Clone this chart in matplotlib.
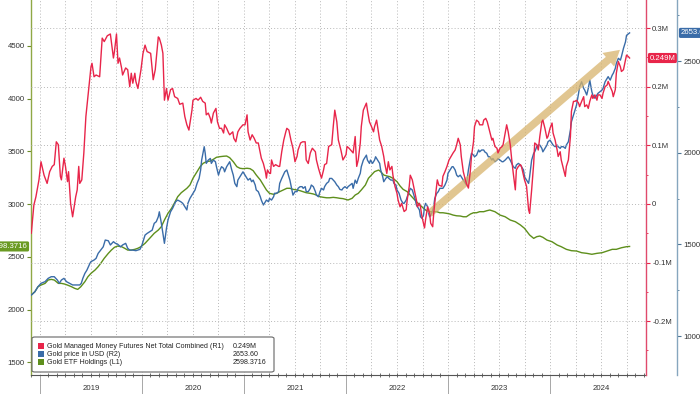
import numpy as np
import matplotlib
matplotlib.use("Agg")
import matplotlib.pyplot as plt
from matplotlib.ticker import FixedLocator, FuncFormatter, MultipleLocator
from matplotlib.patches import FancyBboxPatch, Rectangle

plt.rcParams['font.family'] = ['Liberation Sans', 'DejaVu Sans']

# ---------------- data (dates as decimal years) ----------------
series_names = ["Gold Managed Money Futures Net Total Combined (R1)",
                "Gold price in USD (R2)",
                "Gold ETF Holdings (L1)"]

red_t = [2018.915, 2018.94, 2018.96, 2018.99, 2019.01, 2019.04, 2019.07, 2019.095, 2019.12, 2019.14,
         2019.16, 2019.18, 2019.20, 2019.21, 2019.235, 2019.25, 2019.27, 2019.28, 2019.30, 2019.32,
         2019.35, 2019.365, 2019.38, 2019.39, 2019.41, 2019.43, 2019.45, 2019.48, 2019.50, 2019.51,
         2019.53, 2019.55, 2019.585, 2019.61, 2019.63, 2019.66, 2019.69, 2019.72, 2019.73, 2019.75,
         2019.765, 2019.78, 2019.80, 2019.81, 2019.84, 2019.86, 2019.88, 2019.895, 2019.91, 2019.93,
         2019.94, 2019.96, 2019.99, 2020.01, 2020.03, 2020.05, 2020.085, 2020.11, 2020.13, 2020.16,
         2020.17, 2020.19, 2020.205, 2020.22, 2020.24, 2020.255, 2020.28, 2020.30, 2020.32, 2020.35,
         2020.37, 2020.40, 2020.42, 2020.44, 2020.46, 2020.49, 2020.50, 2020.53, 2020.55, 2020.575,
         2020.595, 2020.62, 2020.63, 2020.65, 2020.67, 2020.68, 2020.70, 2020.725, 2020.74, 2020.76,
         2020.78, 2020.80, 2020.81, 2020.83, 2020.85, 2020.86, 2020.89, 2020.90, 2020.92, 2020.94,
         2020.96, 2020.99, 2021.01, 2021.03, 2021.04, 2021.06, 2021.08, 2021.10, 2021.12, 2021.14,
         2021.16, 2021.17, 2021.19, 2021.21, 2021.22, 2021.23, 2021.25, 2021.26, 2021.27, 2021.29,
         2021.31, 2021.34, 2021.35, 2021.37, 2021.39, 2021.41, 2021.42, 2021.44, 2021.46, 2021.48,
         2021.50, 2021.52, 2021.53, 2021.555, 2021.575, 2021.60, 2021.61, 2021.63, 2021.65, 2021.67,
         2021.70, 2021.71, 2021.73, 2021.745, 2021.76, 2021.78, 2021.79, 2021.81, 2021.83, 2021.86,
         2021.875, 2021.89, 2021.91, 2021.925, 2021.95, 2021.97, 2022.00, 2022.01, 2022.03, 2022.06,
         2022.07, 2022.09, 2022.105, 2022.12, 2022.14, 2022.15, 2022.17, 2022.20, 2022.21, 2022.23,
         2022.25, 2022.27, 2022.28, 2022.30, 2022.32, 2022.33, 2022.35, 2022.37, 2022.38, 2022.40,
         2022.415, 2022.43, 2022.45, 2022.46, 2022.48, 2022.50, 2022.51, 2022.53, 2022.545, 2022.57,
         2022.59, 2022.60, 2022.62, 2022.63, 2022.65, 2022.67, 2022.69, 2022.70, 2022.72, 2022.73,
         2022.745, 2022.76, 2022.77, 2022.78, 2022.80, 2022.82, 2022.83, 2022.85, 2022.86, 2022.88,
         2022.895, 2022.91, 2022.94, 2022.95, 2022.97, 2022.99, 2023.01, 2023.03, 2023.05, 2023.07,
         2023.085, 2023.10, 2023.12, 2023.13, 2023.15, 2023.17, 2023.18, 2023.20, 2023.22, 2023.23,
         2023.25, 2023.26, 2023.28, 2023.30, 2023.31, 2023.34, 2023.35, 2023.37, 2023.385, 2023.405,
         2023.43, 2023.44, 2023.46, 2023.48, 2023.49, 2023.51, 2023.53, 2023.54, 2023.56, 2023.575,
         2023.59, 2023.61, 2023.625, 2023.64, 2023.66, 2023.67, 2023.69, 2023.71, 2023.72, 2023.74,
         2023.75, 2023.77, 2023.79, 2023.80, 2023.82, 2023.84, 2023.85, 2023.87, 2023.885, 2023.90,
         2023.92, 2023.93, 2023.95, 2023.97, 2023.98, 2024.00, 2024.02, 2024.03, 2024.05, 2024.07,
         2024.08, 2024.10, 2024.11, 2024.13, 2024.15, 2024.16, 2024.18, 2024.20, 2024.21, 2024.23,
         2024.245, 2024.26, 2024.28, 2024.29, 2024.31, 2024.33, 2024.34, 2024.36, 2024.375, 2024.39,
         2024.41, 2024.42, 2024.44, 2024.46, 2024.47, 2024.49, 2024.51, 2024.52, 2024.54, 2024.56,
         2024.57, 2024.59, 2024.61, 2024.62, 2024.64, 2024.65, 2024.67, 2024.69, 2024.70, 2024.72,
         2024.74, 2024.75, 2024.77, 2024.78]
red_v = [-0.050, -0.002, 0.012, 0.041, 0.072, 0.049, 0.035, 0.055, 0.064, 0.067,
         0.106, 0.101, 0.047, 0.041, 0.078, 0.064, 0.038, 0.055, 0.001, -0.022,
         0.012, 0.024, 0.064, 0.035, 0.041, 0.087, 0.149, 0.200, 0.234, 0.240,
         0.217, 0.220, 0.217, 0.283, 0.277, 0.287, 0.290, 0.249, 0.260, 0.290,
         0.240, 0.249, 0.232, 0.220, 0.232, 0.229, 0.200, 0.223, 0.206, 0.223,
         0.209, 0.197, 0.229, 0.257, 0.271, 0.260, 0.257, 0.212, 0.229, 0.285,
         0.283, 0.271, 0.257, 0.177, 0.197, 0.177, 0.195, 0.197, 0.183, 0.180,
         0.170, 0.172, 0.149, 0.135, 0.126, 0.160, 0.177, 0.180, 0.177, 0.182,
         0.175, 0.172, 0.152, 0.155, 0.146, 0.138, 0.155, 0.163, 0.140, 0.129,
         0.129, 0.121, 0.135, 0.129, 0.121, 0.118, 0.123, 0.112, 0.106, 0.123,
         0.129, 0.135, 0.135, 0.152, 0.123, 0.109, 0.118, 0.112, 0.104, 0.104,
         0.087, 0.078, 0.069, 0.055, 0.044, 0.058, 0.052, 0.052, 0.075, 0.064,
         0.067, 0.064, 0.064, 0.089, 0.109, 0.123, 0.129, 0.126, 0.109, 0.095,
         0.072, 0.081, 0.092, 0.104, 0.106, 0.106, 0.075, 0.069, 0.087, 0.095,
         0.089, 0.075, 0.061, 0.052, 0.044, 0.058, 0.067, 0.069, 0.098, 0.101,
         0.132, 0.160, 0.140, 0.109, 0.092, 0.075, 0.084, 0.098, 0.095, 0.089,
         0.087, 0.115, 0.064, 0.075, 0.104, 0.132, 0.160, 0.172, 0.160, 0.140,
         0.132, 0.123, 0.132, 0.143, 0.121, 0.109, 0.098, 0.081, 0.069, 0.052,
         0.072, 0.058, 0.064, 0.049, 0.030, 0.018, 0.007, -0.005, 0.001, -0.013,
         -0.010, 0.007, 0.030, 0.049, 0.041, 0.024, 0.007, -0.005, 0.001, -0.005,
         -0.022, -0.033, -0.041, -0.027, -0.005, -0.016, -0.033, -0.039, -0.016, 0.018,
         0.041, 0.032, 0.030, 0.047, 0.055, 0.064, 0.075, 0.081, 0.087, 0.092,
         0.101, 0.112, 0.101, 0.081, 0.055, 0.041, 0.035, 0.027, 0.058, 0.081,
         0.106, 0.132, 0.143, 0.140, 0.135, 0.135, 0.143, 0.146, 0.140, 0.126,
         0.109, 0.112, 0.098, 0.095, 0.087, 0.095, 0.098, 0.101, 0.121, 0.135,
         0.123, 0.101, 0.075, 0.052, 0.024, 0.058, 0.064, 0.067, 0.064, 0.049,
         0.041, 0.030, -0.010, -0.016, 0.024, 0.069, 0.104, 0.101, 0.092, 0.115,
         0.140, 0.143, 0.129, 0.112, 0.115, 0.129, 0.138, 0.121, 0.109, 0.092,
         0.081, 0.089, 0.075, 0.061, 0.047, 0.064, 0.075, 0.115, 0.158, 0.175,
         0.175, 0.177, 0.172, 0.166, 0.175, 0.183, 0.166, 0.169, 0.163, 0.175,
         0.186, 0.180, 0.186, 0.177, 0.186, 0.186, 0.180, 0.189, 0.200, 0.203,
         0.209, 0.200, 0.192, 0.183, 0.195, 0.223, 0.243, 0.234, 0.226, 0.229,
         0.246, 0.254, 0.251, 0.249]

blue_t = [2018.915, 2018.95, 2018.98, 2019.01, 2019.05, 2019.08, 2019.11, 2019.14, 2019.17, 2019.19,
          2019.21, 2019.235, 2019.26, 2019.29, 2019.32, 2019.36, 2019.39, 2019.405, 2019.42, 2019.44,
          2019.46, 2019.49, 2019.50, 2019.53, 2019.55, 2019.57, 2019.595, 2019.62, 2019.64, 2019.67,
          2019.69, 2019.72, 2019.74, 2019.76, 2019.79, 2019.81, 2019.84, 2019.86, 2019.88, 2019.91,
          2019.94, 2019.98, 2020.00, 2020.03, 2020.05, 2020.075, 2020.10, 2020.12, 2020.14, 2020.16,
          2020.17, 2020.19, 2020.205, 2020.22, 2020.24, 2020.255, 2020.28, 2020.30, 2020.33, 2020.35,
          2020.38, 2020.40, 2020.42, 2020.44, 2020.45, 2020.47, 2020.50, 2020.52, 2020.54, 2020.56,
          2020.575, 2020.585, 2020.60, 2020.61, 2020.62, 2020.63, 2020.65, 2020.67, 2020.68, 2020.70,
          2020.72, 2020.73, 2020.75, 2020.765, 2020.78, 2020.80, 2020.81, 2020.83, 2020.85, 2020.86,
          2020.88, 2020.895, 2020.91, 2020.93, 2020.94, 2020.96, 2020.98, 2020.99, 2021.01, 2021.03,
          2021.04, 2021.06, 2021.075, 2021.09, 2021.11, 2021.12, 2021.14, 2021.16, 2021.17, 2021.19,
          2021.21, 2021.22, 2021.24, 2021.25, 2021.27, 2021.29, 2021.30, 2021.32, 2021.34, 2021.35,
          2021.37, 2021.385, 2021.40, 2021.42, 2021.43, 2021.45, 2021.47, 2021.48, 2021.50, 2021.52,
          2021.53, 2021.55, 2021.57, 2021.58, 2021.60, 2021.61, 2021.63, 2021.65, 2021.66, 2021.68,
          2021.70, 2021.71, 2021.73, 2021.745, 2021.76, 2021.78, 2021.79, 2021.81, 2021.83, 2021.84,
          2021.86, 2021.875, 2021.89, 2021.91, 2021.925, 2021.94, 2021.96, 2021.97, 2021.99, 2022.01,
          2022.02, 2022.04, 2022.06, 2022.07, 2022.09, 2022.105, 2022.12, 2022.14, 2022.15, 2022.17,
          2022.19, 2022.20, 2022.21, 2022.23, 2022.24, 2022.26, 2022.28, 2022.29, 2022.31, 2022.33,
          2022.34, 2022.36, 2022.37, 2022.39, 2022.405, 2022.42, 2022.44, 2022.46, 2022.47, 2022.49,
          2022.50, 2022.52, 2022.54, 2022.56, 2022.57, 2022.59, 2022.60, 2022.62, 2022.63, 2022.65,
          2022.66, 2022.68, 2022.69, 2022.71, 2022.72, 2022.73, 2022.745, 2022.76, 2022.77, 2022.78,
          2022.80, 2022.81, 2022.82, 2022.84, 2022.86, 2022.87, 2022.89, 2022.905, 2022.92, 2022.94,
          2022.95, 2022.97, 2022.99, 2023.00, 2023.02, 2023.04, 2023.05, 2023.07, 2023.085, 2023.10,
          2023.12, 2023.13, 2023.15, 2023.17, 2023.18, 2023.20, 2023.22, 2023.23, 2023.25, 2023.26,
          2023.28, 2023.30, 2023.31, 2023.33, 2023.35, 2023.36, 2023.38, 2023.395, 2023.41, 2023.43,
          2023.44, 2023.46, 2023.48, 2023.49, 2023.51, 2023.53, 2023.54, 2023.56, 2023.575, 2023.59,
          2023.61, 2023.625, 2023.64, 2023.66, 2023.67, 2023.69, 2023.71, 2023.72, 2023.74, 2023.75,
          2023.77, 2023.79, 2023.80, 2023.82, 2023.84, 2023.85, 2023.87, 2023.885, 2023.90, 2023.92,
          2023.93, 2023.95, 2023.97, 2023.98, 2024.00, 2024.02, 2024.03, 2024.05, 2024.07, 2024.08,
          2024.10, 2024.11, 2024.13, 2024.15, 2024.16, 2024.18, 2024.20, 2024.21, 2024.23, 2024.245,
          2024.26, 2024.28, 2024.29, 2024.31, 2024.33, 2024.34, 2024.36, 2024.375, 2024.39, 2024.41,
          2024.42, 2024.44, 2024.46, 2024.47, 2024.49, 2024.51, 2024.52, 2024.54, 2024.56, 2024.57,
          2024.59, 2024.61, 2024.62, 2024.64, 2024.65, 2024.67, 2024.69, 2024.70, 2024.72, 2024.74,
          2024.75, 2024.78]
blue_v = [1224, 1242, 1269, 1288, 1297, 1315, 1324, 1324, 1306, 1288,
          1306, 1315, 1297, 1288, 1279, 1279, 1279, 1288, 1315, 1342,
          1360, 1397, 1406, 1415, 1424, 1451, 1469, 1487, 1524, 1520,
          1497, 1515, 1506, 1502, 1487, 1497, 1506, 1479, 1469, 1469,
          1466, 1473, 1497, 1551, 1560, 1569, 1578, 1615, 1624, 1651,
          1678, 1615, 1560, 1506, 1588, 1633, 1678, 1697, 1733, 1742,
          1733, 1724, 1706, 1688, 1724, 1751, 1779, 1797, 1833, 1860,
          1906, 1960, 2005, 2033, 1997, 1942, 1960, 1969, 1942, 1960,
          1951, 1924, 1878, 1906, 1924, 1915, 1896, 1924, 1942, 1951,
          1906, 1878, 1833, 1815, 1851, 1869, 1888, 1896, 1878, 1860,
          1851, 1860, 1842, 1851, 1824, 1797, 1788, 1760, 1742, 1715,
          1733, 1742, 1733, 1751, 1742, 1760, 1779, 1779, 1788, 1833,
          1860, 1878, 1896, 1906, 1888, 1851, 1797, 1769, 1788, 1788,
          1806, 1815, 1815, 1806, 1815, 1788, 1788, 1806, 1824, 1815,
          1788, 1769, 1760, 1788, 1806, 1797, 1815, 1833, 1842, 1860,
          1860, 1851, 1842, 1824, 1815, 1800, 1797, 1806, 1815, 1806,
          1815, 1824, 1833, 1806, 1851, 1833, 1860, 1888, 1924, 1960,
          1978, 1987, 1960, 1942, 1960, 1942, 1960, 1978, 1960, 1942,
          1906, 1869, 1842, 1860, 1869, 1860, 1851, 1851, 1833, 1824,
          1797, 1779, 1742, 1724, 1724, 1742, 1760, 1788, 1806, 1797,
          1779, 1742, 1715, 1697, 1688, 1651, 1642, 1660, 1706, 1724,
          1706, 1669, 1651, 1669, 1706, 1751, 1779, 1788, 1806, 1806,
          1806, 1824, 1851, 1888, 1906, 1924, 1924, 1906, 1878, 1869,
          1878, 1869, 1851, 1833, 1824, 1906, 1969, 1997, 1987, 1978,
          1987, 2015, 2005, 2015, 2015, 2005, 1997, 1978, 1978, 1960,
          1969, 1951, 1960, 1969, 1960, 1951, 1951, 1960, 1969, 1978,
          1960, 1942, 1924, 1915, 1933, 1942, 1933, 1924, 1906, 1869,
          1851, 1833, 1869, 1960, 1997, 2005, 2033, 2042, 2042, 2024,
          2005, 2024, 2042, 2060, 2069, 2051, 2042, 2033, 2042, 2033,
          2024, 2033, 2033, 2024, 2042, 2060, 2124, 2169, 2206, 2233,
          2260, 2324, 2360, 2387, 2351, 2342, 2315, 2351, 2396, 2333,
          2315, 2297, 2315, 2324, 2333, 2342, 2351, 2387, 2406, 2415,
          2396, 2424, 2433, 2460, 2487, 2515, 2505, 2524, 2569, 2605,
          2640, 2653.60]

green_t = [2018.915, 2018.95, 2018.98, 2019.01, 2019.05, 2019.08, 2019.11, 2019.14, 2019.18, 2019.21,
           2019.24, 2019.27, 2019.31, 2019.34, 2019.37, 2019.40, 2019.44, 2019.47, 2019.50, 2019.54,
           2019.57, 2019.60, 2019.63, 2019.67, 2019.70, 2019.73, 2019.76, 2019.80, 2019.83, 2019.86,
           2019.895, 2019.93, 2019.96, 2019.99, 2020.03, 2020.06, 2020.09, 2020.12, 2020.16, 2020.19,
           2020.22, 2020.255, 2020.29, 2020.32, 2020.35, 2020.385, 2020.42, 2020.44, 2020.47, 2020.50,
           2020.54, 2020.57, 2020.60, 2020.63, 2020.67, 2020.70, 2020.73, 2020.765, 2020.80, 2020.83,
           2020.86, 2020.895, 2020.93, 2020.96, 2020.99, 2021.03, 2021.06, 2021.09, 2021.12, 2021.16,
           2021.19, 2021.22, 2021.25, 2021.29, 2021.32, 2021.35, 2021.385, 2021.42, 2021.45, 2021.48,
           2021.52, 2021.55, 2021.58, 2021.61, 2021.65, 2021.68, 2021.71, 2021.745, 2021.78, 2021.81,
           2021.84, 2021.875, 2021.91, 2021.94, 2021.97, 2022.02, 2022.06, 2022.09, 2022.12, 2022.15,
           2022.19, 2022.22, 2022.25, 2022.28, 2022.32, 2022.34, 2022.37, 2022.40, 2022.43, 2022.46,
           2022.50, 2022.53, 2022.56, 2022.60, 2022.63, 2022.66, 2022.69, 2022.725, 2022.76, 2022.79,
           2022.82, 2022.86, 2022.89, 2022.92, 2022.95, 2022.99, 2023.02, 2023.05, 2023.085, 2023.12,
           2023.15, 2023.18, 2023.22, 2023.25, 2023.28, 2023.31, 2023.35, 2023.38, 2023.41, 2023.46,
           2023.51, 2023.56, 2023.61, 2023.66, 2023.71, 2023.75, 2023.80, 2023.84, 2023.87, 2023.90,
           2023.93, 2023.97, 2024.02, 2024.07, 2024.11, 2024.16, 2024.21, 2024.26, 2024.31, 2024.36,
           2024.41, 2024.46, 2024.51, 2024.56, 2024.61, 2024.65, 2024.70, 2024.75, 2024.78]
green_v = [2137, 2169, 2216, 2232, 2248, 2280, 2286, 2280, 2248, 2248,
           2242, 2232, 2216, 2201, 2191, 2216, 2264, 2311, 2343, 2375,
           2406, 2444, 2486, 2533, 2564, 2590, 2602, 2596, 2581, 2564,
           2564, 2571, 2581, 2596, 2628, 2659, 2691, 2723, 2754, 2786,
           2849, 2913, 2960, 3013, 3070, 3108, 3135, 3150, 3181, 3245,
           3308, 3355, 3387, 3402, 3409, 3425, 3444, 3450, 3454, 3456,
           3440, 3402, 3355, 3340, 3336, 3340, 3336, 3317, 3276, 3229,
           3181, 3134, 3102, 3093, 3102, 3118, 3134, 3150, 3150, 3140,
           3134, 3127, 3118, 3108, 3102, 3096, 3086, 3070, 3064, 3060,
           3060, 3064, 3060, 3055, 3052, 3039, 3055, 3086, 3102, 3134,
           3181, 3245, 3276, 3308, 3323, 3308, 3276, 3267, 3260, 3245,
           3213, 3172, 3140, 3118, 3086, 3055, 3023, 2991, 2960, 2937,
           2928, 2928, 2928, 2918, 2918, 2912, 2906, 2896, 2889, 2887,
           2880, 2880, 2906, 2918, 2918, 2928, 2928, 2937, 2944, 2928,
           2896, 2880, 2849, 2833, 2802, 2770, 2707, 2675, 2691, 2697,
           2685, 2659, 2643, 2612, 2596, 2571, 2558, 2555, 2539, 2533,
           2524, 2533, 2539, 2555, 2571, 2571, 2586, 2596, 2598.3716]

years = [2019, 2020, 2021, 2022, 2023, 2024]
l1_ticks = [1500, 2000, 2500, 3000, 3500, 4000, 4500]
r1_ticks = [-0.2, -0.1, 0.0, 0.1, 0.2, 0.3]
r2_ticks = [1000, 1500, 2000, 2500]

# ---------------- styling ----------------
RED = '#E8254A'
BLUE = '#3A6CA8'
GREEN = '#5E8F1C'
GRID = '#B8B8B8'
TXT = '#333333'
FS = 5.6
LFS = 5.1

W, H = 700, 394
fig = plt.figure(figsize=(W / 100, H / 100), dpi=100)
fig.patch.set_facecolor('white')
x0, x1, ybot = 31, 646, 375
ax = fig.add_axes([x0 / W, 1 - ybot / H, (x1 - x0) / W, ybot / H])
axB = ax.twinx()
axR = ax.twinx()

ax.set_xlim(2018.912, 2024.941)
ax.set_ylim(1379, 4936)
axR.set_ylim(-0.292, 0.348)
axB.set_ylim(788, 2833)

# spines
for s in ['top', 'right']:
    ax.spines[s].set_visible(False)
ax.spines['left'].set_color('#8FA845')
ax.spines['left'].set_linewidth(1.0)
ax.spines['bottom'].set_color('#555555')
ax.spines['bottom'].set_linewidth(0.8)
for a in (axB, axR):
    for s in ['top', 'left', 'bottom']:
        a.spines[s].set_visible(False)
axR.spines['right'].set_color('#E04A6C')
axR.spines['right'].set_linewidth(1.0)
axB.spines['right'].set_position(('axes', (677 - x0) / (x1 - x0)))
axB.spines['right'].set_color('#86A6BE')
axB.spines['right'].set_linewidth(1.0)

# y ticks
ax.yaxis.set_major_locator(FixedLocator(l1_ticks))
ax.tick_params(axis='y', direction='out', length=3, width=0.8, color='#6C8A2A',
               labelsize=FS, labelcolor=TXT, pad=1.5)
axR.yaxis.set_major_locator(FixedLocator(r1_ticks))
axR.yaxis.set_minor_locator(MultipleLocator(0.05))
axR.yaxis.set_major_formatter(FuncFormatter(lambda v, p: '0' if abs(v) < 1e-9 else f'{v:.1f}M'))
axR.tick_params(axis='y', which='major', direction='out', length=3, width=0.8, color=RED,
                labelsize=FS, labelcolor=TXT, pad=1.5)
axR.tick_params(axis='y', which='minor', direction='out', length=1.5, width=0.6, color=RED)
axB.yaxis.set_major_locator(FixedLocator(r2_ticks))
axB.yaxis.set_minor_locator(MultipleLocator(250))
axB.tick_params(axis='y', which='major', direction='out', length=3, width=0.8, color='#4D7595',
                labelsize=FS, labelcolor=TXT, pad=1.5)
axB.tick_params(axis='y', which='minor', direction='out', length=1.5, width=0.6, color='#4D7595')

# x ticks: year separators (major) + monthly (minor)
ax.xaxis.set_major_locator(FixedLocator(years))
ax.xaxis.set_major_formatter(FuncFormatter(lambda v, p: ''))
months = [2018 + 11 / 12 + k / 12 for k in range(0, 74)]
ax.xaxis.set_minor_locator(FixedLocator(months))
ax.tick_params(axis='x', which='major', direction='out', length=13.5, width=0.6, color='#999999')
ax.tick_params(axis='x', which='minor', direction='inout', length=3, width=0.6, color='#555555')
for yr in years:
    ax.text(yr + 0.5, -0.035, str(yr), transform=ax.get_xaxis_transform(),
            ha='center', va='center', fontsize=FS, color=TXT)

# grid: quarterly verticals, R1 horizontals
for q in np.arange(2019, 2025, 0.25):
    ax.axvline(q, color=GRID, lw=0.7, ls=(0, (1, 2.2)), zorder=0)
for v in r1_ticks:
    axR.axhline(v, color=GRID, lw=0.7, ls=(0, (1, 2.2)), zorder=0.5)

# series
ax.plot(green_t, green_v, color=GREEN, lw=1.0, zorder=2)
axB.plot(blue_t, blue_v, color=BLUE, lw=1.0, zorder=2)
axR.plot(red_t, red_v, color=RED, lw=1.0, zorder=3)

# trend arrow
axR.annotate('', xy=(2024.706, 0.266), xytext=(2022.794, -0.020),
             arrowprops=dict(arrowstyle='simple,head_length=1.1,head_width=1.3,tail_width=0.55',
                             mutation_scale=10, fc='#D8B46C', ec='none', alpha=0.75),
             zorder=2.5)

# last-value labels
ax.annotate(f'{green_v[-1]:.4f}', xy=(0, green_v[-1]), xycoords=('axes fraction', 'data'),
            xytext=(-2.5, 0), textcoords='offset points', ha='right', va='center',
            fontsize=FS, color='white', annotation_clip=False, zorder=10,
            bbox=dict(boxstyle='round,pad=0.2', fc='#6A9A22', ec='none'))
axR.annotate(f'{red_v[-1]:.3f}M', xy=(1, red_v[-1]), xycoords=('axes fraction', 'data'),
             xytext=(2.5, 0), textcoords='offset points', ha='left', va='center',
             fontsize=FS, color='white', annotation_clip=False, zorder=10,
             bbox=dict(boxstyle='round,pad=0.2', fc=RED, ec='none'))
axB.annotate(f'{blue_v[-1]:.2f}', xy=((677 - x0) / (x1 - x0), blue_v[-1]),
             xycoords=('axes fraction', 'data'),
             xytext=(2.5, 0), textcoords='offset points', ha='left', va='center',
             fontsize=FS, color='white', annotation_clip=False, zorder=10,
             bbox=dict(boxstyle='round,pad=0.2', fc=BLUE, ec='none'))

# legend (drawn in figure coordinates)
def fx(px):
    return px / W

def fy(py):
    return 1 - py / H

box = FancyBboxPatch((fx(32), fy(372)), fx(274) - fx(32), fy(337) - fy(372),
                     boxstyle='round,pad=0,rounding_size=0.004', transform=fig.transFigure,
                     fc='white', ec='#666666', lw=0.8, zorder=20)
fig.patches.append(box)
leg_colors = [RED, BLUE, GREEN]
leg_values = [f'{red_v[-1]:.3f}M', f'{blue_v[-1]:.2f}', f'{green_v[-1]:.4f}']
rows_py = [346, 354, 362]
for name, col, val, py in zip(series_names, leg_colors, leg_values, rows_py):
    fig.patches.append(Rectangle((fx(38), fy(py + 3)), fx(6), 6 / H, transform=fig.transFigure,
                                 fc=col, ec='none', zorder=21))
    fig.text(fx(47), fy(py), name, ha='left', va='center', fontsize=LFS, color='#222222', zorder=21)
    fig.text(fx(233), fy(py), val, ha='left', va='center', fontsize=LFS, color='#222222', zorder=21)

fig.savefig('out.png', dpi=100, facecolor='white')
